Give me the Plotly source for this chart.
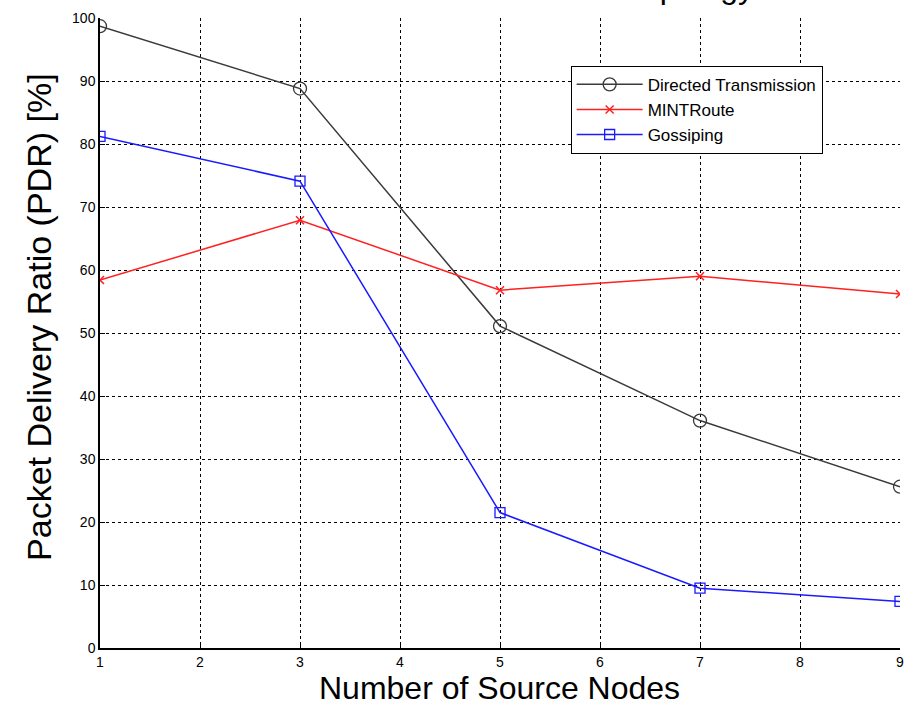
import plotly.graph_objects as go

nodes = [1, 3, 5, 7, 9]
directed = [98.7, 88.8, 51.1, 36.1, 25.6]
mintroute = [58.4, 67.9, 56.8, 59.0, 56.2]
gossiping = [81.2, 74.1, 21.5, 9.5, 7.4]
x_ticks = [1, 2, 3, 4, 5, 6, 7, 8, 9]
y_ticks = [0, 10, 20, 30, 40, 50, 60, 70, 80, 90, 100]

FONT = "Liberation Sans"
W, H = 914, 706
L, R, T, B = 100, 10, 15, 58
PW, PH = W - L - R, H - T - B

def px_x(p):
    return (p - L) / PW

def px_y(p):
    return (H - B - p) / PH

fig = go.Figure()
fig.add_trace(go.Scatter(
    x=nodes, y=directed, name="Directed Transmission", mode="lines+markers",
    line=dict(color="#3a3a3a", width=1.5),
    marker=dict(symbol="circle-open", size=13, color="#3a3a3a", line=dict(width=1.3)),
))
fig.add_trace(go.Scatter(
    x=nodes, y=mintroute, name="MINTRoute", mode="lines+markers",
    line=dict(color="#ff2020", width=1.5),
    marker=dict(symbol="x-thin-open", size=8, color="#ff2020", line=dict(width=1.5, color="#ff2020")),
))
fig.add_trace(go.Scatter(
    x=nodes, y=gossiping, name="Gossiping", mode="lines+markers",
    line=dict(color="#1a1aff", width=1.5),
    marker=dict(symbol="square-open", size=10, color="#1a1aff", line=dict(width=1.3)),
))

axis_common = dict(
    showgrid=True, gridcolor="black", gridwidth=1, griddash="dot",
    showline=True, linecolor="black", linewidth=1.5,
    ticks="inside", ticklen=5, tickcolor="black", tickwidth=1,
    tickfont=dict(family=FONT, size=14, color="black"),
    zeroline=False, mirror=False,
)

fig.update_xaxes(range=[1, 9], tickvals=x_ticks, **axis_common)
fig.update_yaxes(range=[0, 100], tickvals=y_ticks, **axis_common)

fig.add_annotation(
    text="Packet Delivery Ratio (PDR) [%]", textangle=-90,
    xref="paper", yref="paper", x=px_x(38), y=px_y(316),
    xanchor="center", yanchor="middle", showarrow=False,
    font=dict(family=FONT, size=34, color="black"),
)
fig.add_annotation(
    text="Number of Source Nodes",
    xref="paper", yref="paper", x=px_x(501), y=px_y(688),
    xanchor="center", yanchor="middle", showarrow=False,
    font=dict(family=FONT, size=32, color="black"),
)
fig.add_annotation(
    text="Topology",
    xref="paper", yref="paper", x=px_x(628), y=px_y(3),
    xanchor="left", yanchor="bottom", showarrow=False, borderpad=0,
    font=dict(family=FONT, size=32, color="black"),
)

fig.update_layout(
    width=W, height=H,
    margin=dict(l=L, r=R, t=T, b=B),
    paper_bgcolor="white", plot_bgcolor="white",
    showlegend=True,
    legend=dict(
        x=px_x(573), y=px_y(63), xanchor="left", yanchor="top",
        bgcolor="white", bordercolor="black", borderwidth=1,
        font=dict(family=FONT, size=17, color="black"),
        tracegroupgap=0, itemwidth=66,
    ),
)

fig.write_html("out.html")
